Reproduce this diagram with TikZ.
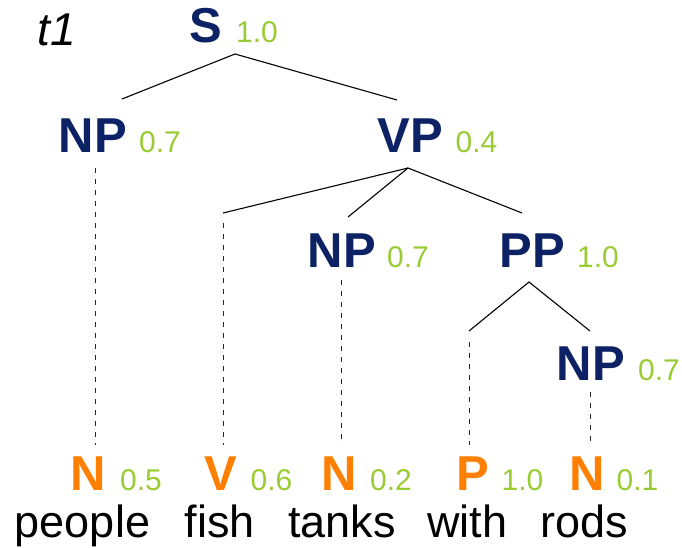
\documentclass[tikz,border=0pt]{standalone}
\usepackage{fontspec}
\setmainfont{Liberation Sans}
\definecolor{navy}{RGB}{12,34,100}
\definecolor{probgreen}{RGB}{153,204,51}
\definecolor{posorange}{RGB}{255,128,0}
\begin{document}
\begin{tikzpicture}[x=1pt,y=-1pt,
  every node/.style={inner sep=0pt,outer sep=0pt,anchor=base},
  cat/.style={font=\fontsize{49}{49}\selectfont\bfseries,text=navy},
  tagcat/.style={font=\fontsize{49}{49}\selectfont\bfseries,text=posorange},
  prob/.style={font=\fontsize{30}{30}\selectfont,text=probgreen},
  word/.style={font=\fontsize{45}{45}\selectfont,text=black},
  edge/.style={draw=black,line width=1.1pt},
  dep/.style={draw=black!85,line width=0.9pt,dash pattern=on 5pt off 6pt}]
\useasboundingbox (0,0) rectangle (682,548);
% title
\node (title) at (56.5,46) {\fontsize{46}{46}\selectfont\itshape t1};
% phrase labels
\node[cat] (S) at (206,43) {S};      \node[prob] (Sp) at (257,43) {1.0};
\node[cat] (NPa) at (93,153) {NP};   \node[prob] (NPap) at (160,153) {0.7};
\node[cat] (VP) at (410,153) {VP};   \node[prob] (VPp) at (476.5,153) {0.4};
\node[cat] (NPb) at (342,267) {NP};  \node[prob] (NPbp) at (408,267) {0.7};
\node[cat] (PP) at (532,267) {PP};   \node[prob] (PPp) at (598,267) {1.0};
\node[cat] (NPc) at (591,380) {NP};  \node[prob] (NPcp) at (659,380) {0.7};
% POS labels
\node[tagcat] (N1) at (88,490) {N};     \node[prob] (N1p) at (141,490) {0.5};
\node[tagcat] (V) at (220.5,490) {V};   \node[prob] (Vp) at (271.5,490) {0.6};
\node[tagcat] (N2) at (339,490) {N};    \node[prob] (N2p) at (391,490) {0.2};
\node[tagcat] (P) at (472.5,490) {P};   \node[prob] (Pp) at (522.5,490) {1.0};
\node[tagcat] (N3) at (587.5,490) {N};  \node[prob] (N3p) at (637.5,490) {0.1};
% words
\node[word] (w1) at (82.5,537) {people};
\node[word] (w2) at (220,537) {fish};
\node[word] (w3) at (342,537) {tanks};
\node[word] (w4) at (467.5,537) {with};
\node[word] (w5) at (584,537) {rods};
% attachment points
\coordinate (Sbot) at (235,54);
\coordinate (NPatop) at (122,99);
\coordinate (VPtop) at (397,100);
\coordinate (VPbot) at (408,168);
\coordinate (Vbr) at (223,213);
\coordinate (NPbtop) at (348,217);
\coordinate (PPtop) at (522,213);
\coordinate (PPbot) at (529,282);
\coordinate (Pbr) at (469,331);
\coordinate (NPctop) at (590,331);
\coordinate (NPabot) at (95,168);
\coordinate (Vtop) at (223,223);
\coordinate (NPbbot) at (341,280);
\coordinate (Ptop) at (469,342);
\coordinate (NPcbot) at (590,392);
\coordinate (N1top) at (95,445);
\coordinate (Vpos) at (223,445);
\coordinate (N2top) at (341,445);
\coordinate (Ppos) at (469,445);
\coordinate (N3top) at (590,445);
% solid edges
\draw[edge] (NPatop) -- (Sbot) -- (VPtop);
\draw[edge] (Vbr) -- (VPbot) -- (PPtop);
\draw[edge] (VPbot) -- (NPbtop);
\draw[edge] (Pbr) -- (PPbot) -- (NPctop);
% dashed edges
\draw[dep] (NPabot) -- (N1top);
\draw[dep] (Vtop) -- (Vpos);
\draw[dep] (NPbbot) -- (N2top);
\draw[dep] (Ptop) -- (Ppos);
\draw[dep] (NPcbot) -- (N3top);
\end{tikzpicture}
\end{document}
